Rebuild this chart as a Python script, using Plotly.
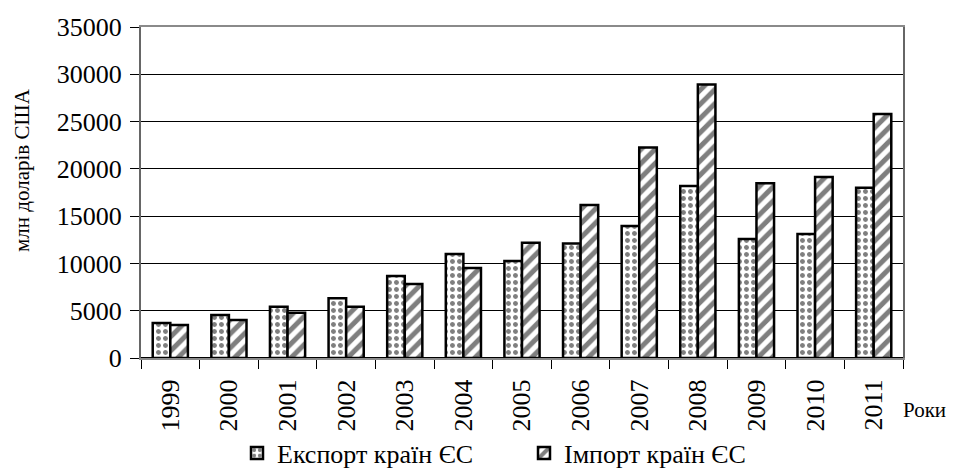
import plotly.graph_objects as go

years = ["1999", "2000", "2001", "2002", "2003", "2004", "2005",
         "2006", "2007", "2008", "2009", "2010", "2011"]
export_eu = [3700, 4550, 5420, 6310, 8670, 10990, 10250,
             12120, 13950, 18180, 12580, 13100, 18000]
import_eu = [3500, 4020, 4790, 5420, 7820, 9510, 12190,
             16170, 22270, 28930, 18470, 19130, 25790]
export_name = "Експорт країн ЄС"
import_name = "Імпорт країн ЄС"
y_title = "млн доларів США"
x_title = "Роки"

FONT = "Liberation Serif, Times New Roman, serif"

# the page adds an 8px body margin; figure sized to fit the remaining viewport
W, H = 946, 463
L, T, R, B = 133, 19, 51, 113
pw, ph = W - L - R, H - T - B

fig = go.Figure()
fig.add_trace(go.Bar(
    x=years, y=export_eu, name=export_name,
    marker=dict(color="white", line=dict(color="black", width=2.5),
                pattern=dict(shape=".", fgcolor="black", bgcolor="white",
                             size=7, solidity=0.4)),
))
fig.add_trace(go.Bar(
    x=years, y=import_eu, name=import_name,
    marker=dict(color="white", line=dict(color="black", width=2.5),
                pattern=dict(shape="/", fgcolor="black", bgcolor="white",
                             size=10, solidity=0.5)),
))

fig.update_layout(
    width=W, height=H,
    margin=dict(l=L, r=R, t=T, b=B, autoexpand=False),
    paper_bgcolor="white", plot_bgcolor="white",
    barmode="group", bargap=0.4, bargroupgap=0,
    font=dict(family=FONT, color="black", size=26),
    showlegend=True,
    legend=dict(orientation="h", x=(229 - L) / pw, xanchor="left",
                y=(350 - 445) / ph, yanchor="middle",
                font=dict(family=FONT, size=26, color="black"),
                bgcolor="rgba(0,0,0,0)", entrywidth=242,
                itemwidth=30, tracegroupgap=0),
    xaxis=dict(
        type="category", tickangle=-90, tickson="boundaries",
        ticks="outside", ticklen=9, tickcolor="black", tickwidth=1,
        showline=True, linecolor="#8a8a8a", linewidth=2, mirror=True,
        showgrid=False, tickfont=dict(family=FONT, size=26, color="black"),
        ticklabelstandoff=9, automargin=False,
    ),
    yaxis=dict(
        range=[0, 35000], dtick=5000, tickformat="d",
        ticks="outside", ticklen=9, tickcolor="black", tickwidth=1,
        showline=True, linecolor="#666666", linewidth=2, mirror=True,
        showgrid=True, gridcolor="black", gridwidth=1,
        zeroline=True, zerolinecolor="black", zerolinewidth=1.5,
        tickfont=dict(family=FONT, size=26, color="black"), automargin=False,
        ticklabelstandoff=3,
    ),
    annotations=[
        dict(text=y_title, xref="paper", yref="paper",
             x=(14 - L) / pw, y=(350 - 162) / ph, textangle=-90,
             showarrow=False, font=dict(family=FONT, size=21),
             xanchor="center", yanchor="middle"),
        dict(text=x_title, xref="paper", yref="paper",
             x=(893 - L) / pw, y=(350 - 402) / ph,
             showarrow=False, font=dict(family=FONT, size=21),
             xanchor="left", yanchor="middle"),
    ],
)

fig.write_html("out.html")
